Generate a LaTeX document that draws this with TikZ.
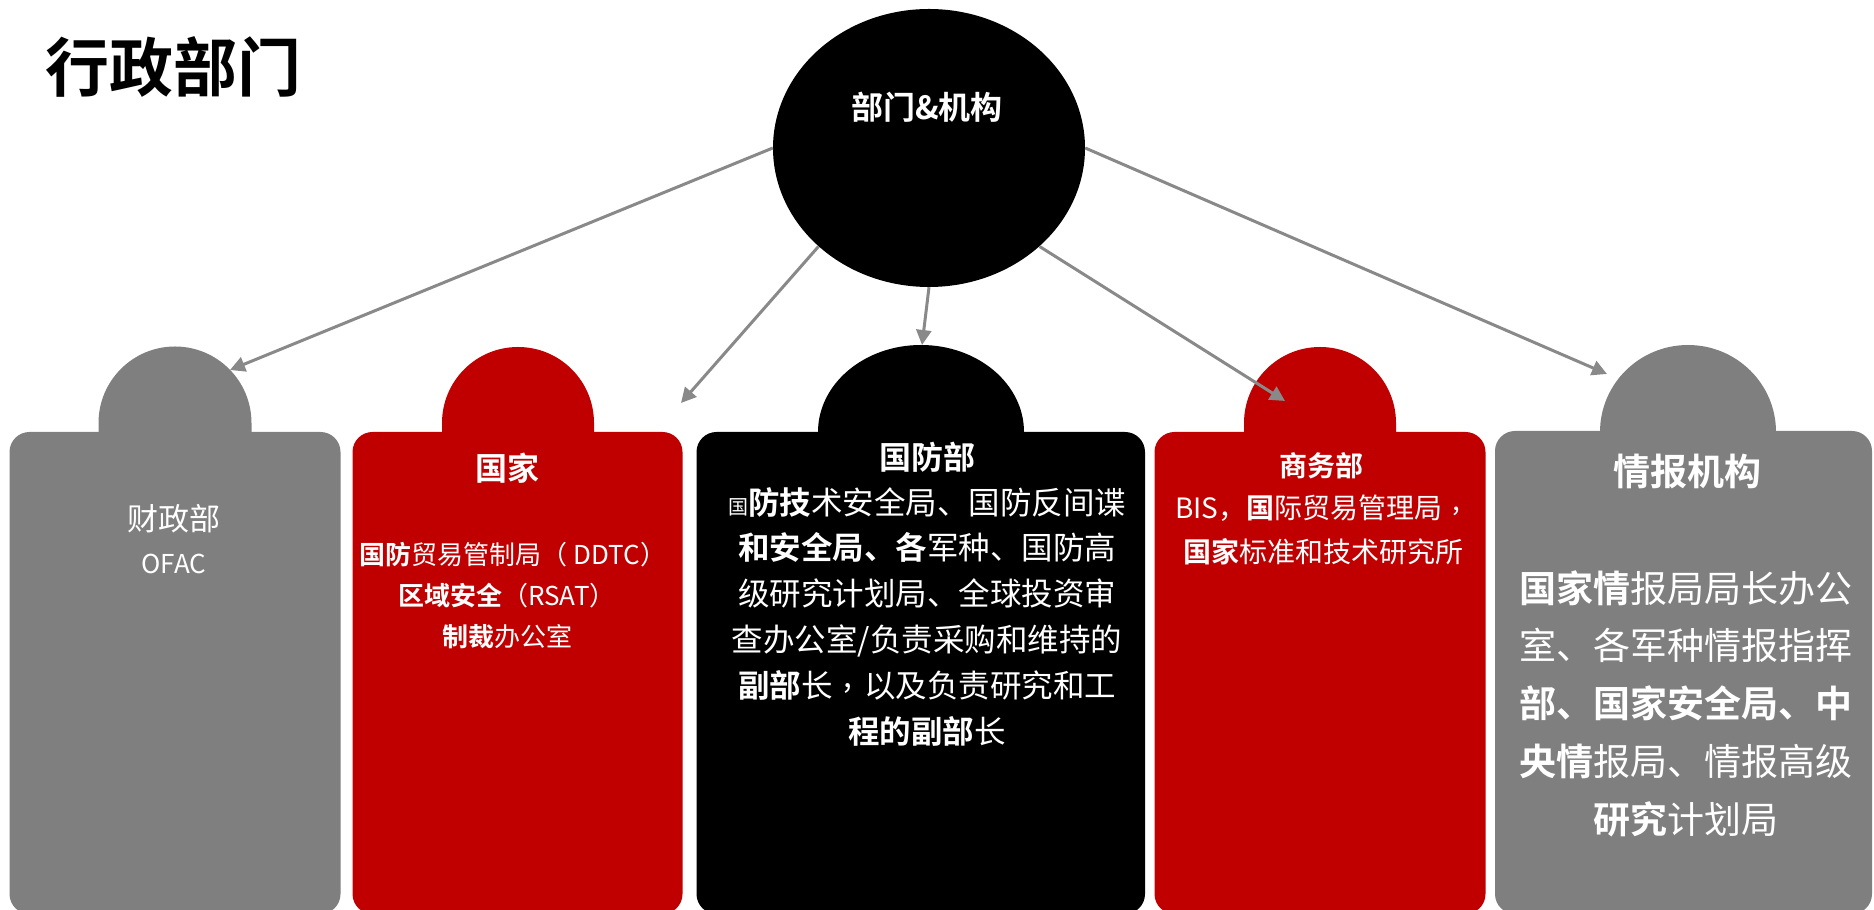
\documentclass[tikz,border=0pt]{standalone}
\usepackage{fontspec}
\setmainfont{Noto Sans CJK SC}[BoldFont={Noto Sans CJK SC Bold}]
\usetikzlibrary{arrows.meta,shapes.geometric}
\definecolor{boxgray}{HTML}{7F7F7F}
\definecolor{boxred}{HTML}{C00000}
\definecolor{arrgray}{HTML}{898989}
\newcommand\fs[2]{\fontsize{#1}{#2}\selectfont}
\newcommand\midcomma{\makebox[1em][c]{\raisebox{0.3em}{,}}}
\begin{document}
\begin{tikzpicture}[x=1pt,y=1pt,
  conn/.style={draw=arrgray, line width=3pt, -{Triangle[length=15pt,width=15pt]}},
  txt/.style={text=white, inner sep=0pt, align=center},
  card/.style={rounded corners=20pt},
]
\useasboundingbox (0,0) rectangle (1874,910);
\clip (0,0) rectangle (1874,910);

% bumps
\fill[boxgray] (98.5,478) -- (98.5,487) arc[start angle=180,end angle=0,radius=76.5] -- (251.5,478) -- cycle;
\fill[boxred] (442,478) -- (442,487) arc[start angle=180,end angle=0,radius=76] -- (594,478) -- cycle;
\fill[black] (818,478) arc[start angle=180,end angle=0,x radius=103,y radius=87] -- cycle;
\fill[boxred] (1244,478) -- (1244,487) arc[start angle=180,end angle=0,radius=76] -- (1396,478) -- cycle;
\fill[boxgray] (1600,478) arc[start angle=180,end angle=0,x radius=88,y radius=87] -- cycle;

% cards
\fill[boxgray,card] (9.5,-4) rectangle (340.5,478);
\fill[boxred,card] (352.5,-4) rectangle (682.5,478);
\fill[black,card] (696.5,-4) rectangle (1145,478);
\fill[boxred,card] (1154.5,-4) rectangle (1485.5,478);
\fill[boxgray,card] (1495,-4) rectangle (1872,479);

% title
\node[anchor=west, inner sep=0pt, font=\fs{64}{64}\bfseries] (title) at (45,843) {行政部门};

% central ellipse
\node[ellipse, fill=black, minimum width=312pt, minimum height=278pt, inner sep=0pt] (e) at (929,762) {};
\node[txt, font=\fs{32}{32}\bfseries] (elabel) at (927,803) {部门\&机构};

% arrow targets
\coordinate (t1) at (230,540);
\coordinate (t2) at (681,507);
\coordinate (t3) at (922,565);
\coordinate (t4) at (1285,509);
\coordinate (t5) at (1607,536);

\draw[conn] (e.west) -- (t1);
\draw[conn] (e.south west) -- (t2);
\draw[conn] (e.south) -- (t3);
\draw[conn] (e.south east) -- (t4);
\draw[conn] (e.east) -- (t5);

% box 1
\node[txt, font=\fs{31}{31}] (b1a) at (174,391) {财政部};
\node[txt, font=\fs{26}{26}] (b1b) at (174,346) {OFAC};

% box 2
\node[txt, font=\fs{32}{32}\bfseries] (b2a) at (507,442) {国家};
\node[txt, font=\fs{26}{41}] (b2b) at (507,314) {\hspace*{12pt}{\bfseries 国防}贸易管制局（\hspace{6pt}DDTC）\\{\bfseries 区域安全}（RSAT）\\{\bfseries 制裁}办公室};

% box 3
\node[txt, font=\fs{32}{32}\bfseries] (b3a) at (927,453) {国防部};
\node[txt, font=\fs{31.5}{45.8}] (b3b) at (927,293.5) {{\fs{20}{20}国}{\bfseries 防技}术安全局、国防反间谍\\{\bfseries 和安全局、各}军种、国防高\\级研究计划局、全球投资审\\查办公室/负责采购和维持的\\{\bfseries 副部}长\midcomma 以及负责研究和工\\{\bfseries 程的副部}长};

% box 4
\node[txt, font=\fs{28}{28}\bfseries] (b4a) at (1321,444) {商务部};
\node[txt, font=\fs{28}{44}] (b4b) at (1323,380) {BIS，{\bfseries 国}际贸易管理局\midcomma\\{\bfseries 国家}标准和技术研究所};

% box 5
\node[txt, font=\fs{37}{37}\bfseries] (b5a) at (1687,438) {情报机构};
\node[txt, font=\fs{37}{57.7}] (b5b) at (1686,206.5) {{\bfseries 国家情}报局局长办公\\室、各军种情报指挥\\{\bfseries 部、国家安全局、中}\\{\bfseries 央情}报局、情报高级\\{\bfseries 研究}计划局};
\end{tikzpicture}
\end{document}
